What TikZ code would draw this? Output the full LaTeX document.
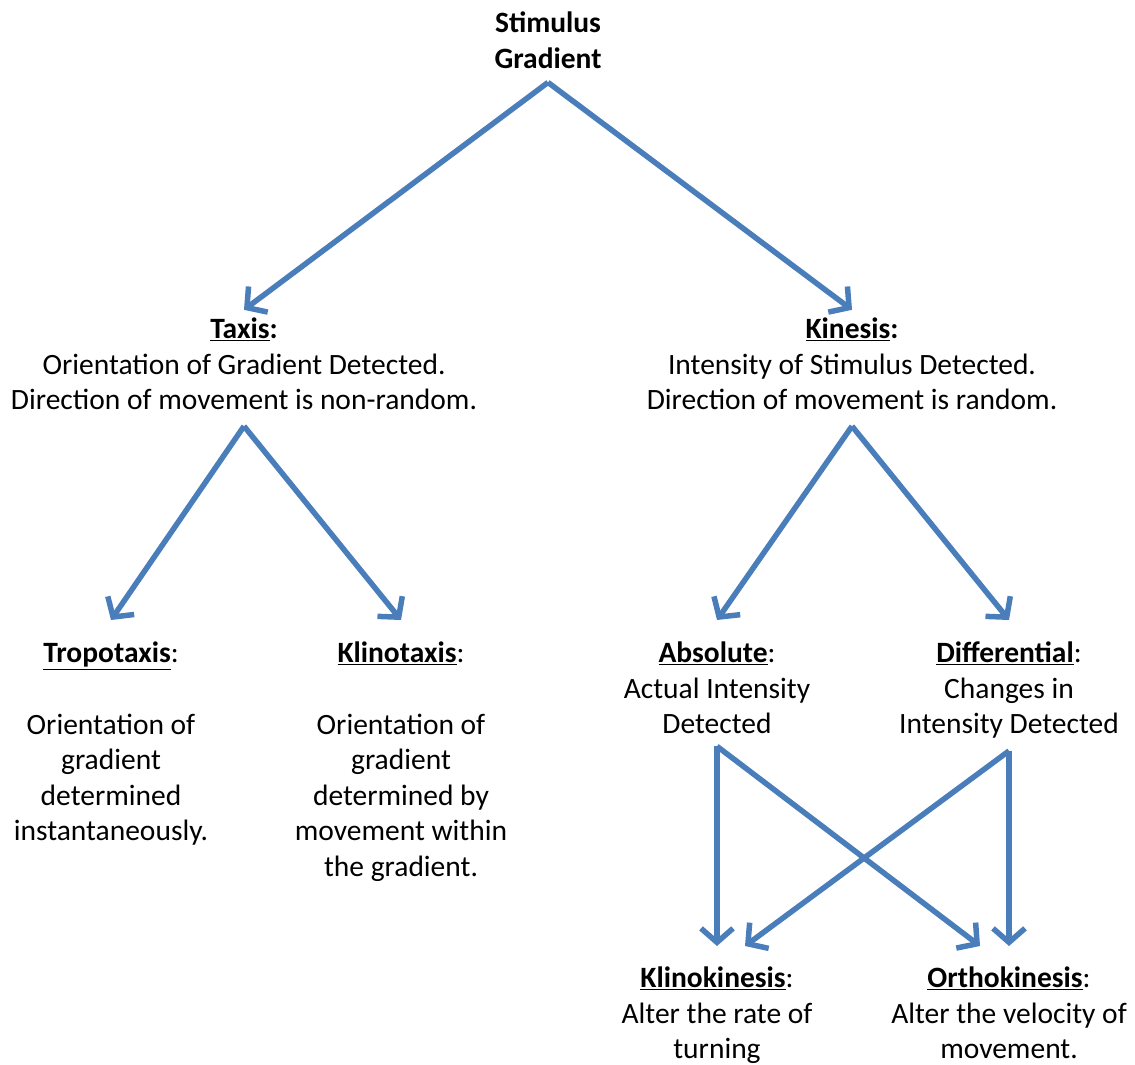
\documentclass[tikz,border=0pt]{standalone}
\usepackage{fontspec}
\setmainfont{Carlito}
\usepackage{tikz}
\usetikzlibrary{arrows.meta,positioning}
\usepackage[dvipsnames]{xcolor}
\definecolor{arrowblue}{RGB}{74,126,187}
\newcommand{\hd}[1]{\textbf{\underline{#1}}}

\begin{document}
\begin{tikzpicture}[x=1pt,y=-1pt,
    txt/.style={align=center, inner sep=0pt, font=\fontsize{29.5}{35.5}\selectfont},
    link/.style={arrowblue, line width=5.5pt, -{Straight Barb[length=14pt,width=32pt]}}]

    \useasboundingbox (0,0) rectangle (1135,1065);

    % top of the tree
    \node[txt] (stim) at (548,40) {\textbf{Stimulus}\\\textbf{Gradient}};

    \node[txt] (taxis) at (244,364) {\hd{Taxis}\textbf{:}\\Orientation of Gradient Detected.\\Direction of movement is non-random.};
    \node[txt] (kinesis) at (852,364) {\hd{Kinesis}\textbf{:}\\Intensity of Stimulus Detected.\\Direction of movement is random.};

    % taxis branch
    \node[txt, anchor=north] (tropo) at (111,642) {\hd{Tropotaxis}:\\[36pt]Orientation of\\gradient\\determined\\instantaneously.};
    \node[txt, anchor=north] (klinot) at (401,642) {\hd{Klinotaxis}:\\[36pt]Orientation of\\gradient\\determined by\\movement within\\the gradient.};

    % kinesis branch
    \node[txt, anchor=north] (abs) at (717,642) {\hd{Absolute}:\\Actual Intensity\\Detected};
    \node[txt, anchor=north] (diff) at (1009,642) {\hd{Differential}:\\Changes in\\Intensity Detected};

    \node[txt, anchor=north] (klinok) at (717,967) {\hd{Klinokinesis}:\\Alter the rate of\\turning};
    \node[txt, anchor=north] (orthok) at (1009,967) {\hd{Orthokinesis}:\\Alter the velocity of\\movement.};

    % where the arrows leave and land
    \coordinate[below=14pt of stim] (stimtip);
    \coordinate[below=16pt of taxis] (taxistip);
    \coordinate[below=16pt of kinesis] (kinesistip);
    \coordinate[below=12pt of abs] (abstip);
    \coordinate[below=12pt of diff] (difftip);
    \coordinate[above=8pt of taxis] (taxisin);
    \coordinate[above=8pt of kinesis] (kinesisin);
    \foreach \n in {tropo,klinot,abs,diff}{
        \coordinate[above=22pt of \n] (\n in);
    }
    \coordinate[above=21pt of klinok] (klinokin);
    \coordinate[above=21pt of orthok] (orthokin);

    % connectors
    \foreach \s/\d in {stim/taxis, stim/kinesis, taxis/tropo, taxis/klinot, kinesis/abs, kinesis/diff, abs/klinok, diff/orthok}{
        \draw[link] (\s tip) -- (\d in);
    }
    \draw[link] (abstip) -- ([xshift=-29pt]orthokin);
    \draw[link] (difftip) -- ([xshift=28pt]klinokin);

\end{tikzpicture}
\end{document}
